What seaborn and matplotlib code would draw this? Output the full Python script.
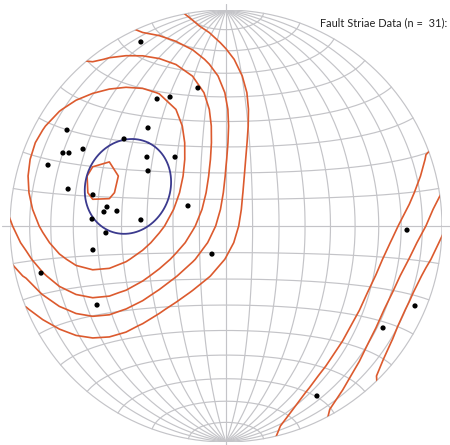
import numpy as np
import matplotlib
matplotlib.use("Agg")
import matplotlib.pyplot as plt
import matplotlib.patches as mpatches
import seaborn as sns

# =====================================================
# DATA (read off the equal-area net, unit radius, lower hemisphere)
# =====================================================

net_x = [-0.394, -0.319, -0.259, -0.130, -0.736, -0.361, -0.755, -0.727,
         -0.662, -0.824, -0.366, -0.236, -0.361, -0.731, -0.616, -0.551,
         -0.565, -0.505, -0.620, -0.394, -0.176, -0.556, -0.616, -0.065,
         -0.856, -0.597, 0.838, 0.875, 0.727, 0.421, -0.472]
net_y = [0.852, 0.588, 0.597, 0.639, 0.444, 0.454, 0.338, 0.338,
         0.356, 0.282, 0.319, 0.319, 0.255, 0.171, 0.144, 0.088,
         0.065, 0.069, 0.032, 0.028, 0.093, -0.032, -0.111, -0.130,
         -0.218, -0.366, -0.019, -0.370, -0.472, -0.787, 0.403]

# confidence cone around the mean striae direction
cone_trend = 292.0
cone_plunge = 49.0
cone_angle = 17.0

# exponential Kamb contouring
kamb_sigma = 3.0
contour_levels = [1.5, 2.6, 3.8, 6.0, 10.7]

title_text = "Fault Striae Data (n =  31):"


def project(e, n, d):
    # Lambert equal-area, scaled so the primitive has radius 1
    k = 1.0 / np.sqrt(1.0 + d)
    return e * k, n * k


def unproject(x, y):
    r2 = x**2 + y**2
    s = np.where(r2 > 1.0, 1.0 / np.sqrt(np.maximum(r2, 1e-12)), 1.0)
    x, y = x * s, y * s
    d = 1.0 - np.minimum(r2, 1.0)
    k = np.sqrt(1.0 + d)
    return x * k, y * k, d


# =====================================================
# FIGURE
# =====================================================

sns.set_style("white")
fig = plt.figure(figsize=(4.5, 4.45), dpi=100)
ax = fig.add_axes([10 / 450, 3 / 445, 432 / 450, 432 / 445])
ax.set_xlim(-1, 1)
ax.set_ylim(-1, 1)
ax.set_aspect("equal")
ax.axis("off")

grid_col = "#c4c4c8"
lw_grid = 0.85

# small circles (latitudes about N-S axis)
t = np.linspace(0, np.pi, 181)
for lat in range(-80, 90, 10):
    la = np.radians(lat)
    if lat == 0:
        continue
    px, py = project(np.cos(la) * np.cos(t), np.sin(la) * np.ones_like(t), np.cos(la) * np.sin(t))
    ax.plot(px, py, color=grid_col, lw=lw_grid)

# great circles (meridians)
lats = np.radians(np.linspace(-90, 90, 181))
for psi in range(10, 180, 10):
    if psi == 90:
        continue
    ps = np.radians(psi)
    px, py = project(np.cos(lats) * np.cos(ps), np.sin(lats), np.cos(lats) * np.sin(ps))
    ax.plot(px, py, color=grid_col, lw=lw_grid)

# primitive and cross
a = np.linspace(0, 2 * np.pi, 361)
ax.plot(np.cos(a), np.sin(a), color=grid_col, lw=lw_grid)
ax.plot([-1.035, 1.035], [0, 0], color=grid_col, lw=lw_grid, clip_on=False)
ax.plot([0, 0], [-1.03, 1.03], color=grid_col, lw=lw_grid, clip_on=False)

# density grid (coarse, like the original)
gx, gy = np.meshgrid(np.linspace(-1.08, 1.08, 29), np.linspace(-1.08, 1.08, 29))
ge, gn, gd = unproject(gx.ravel(), gy.ravel())
de, dn, dd = unproject(np.array(net_x), np.array(net_y))
cosd = np.abs(np.outer(ge, de) + np.outer(gn, dn) + np.outer(gd, dd))
n = len(net_x)
f = 2 * (1.0 + n / kamb_sigma**2)
units = np.sqrt(n * (f / 2.0 - 1) / f**2)
dens = (np.exp(f * (cosd - 1)).sum(axis=1) - 0.5) / units
dens = np.clip(dens, 0, None).reshape(gx.shape)

clip = mpatches.Circle((0, 0), 1.0, transform=ax.transData, fill=False, lw=0)
ax.add_patch(clip)
cs = ax.contour(gx, gy, dens, levels=contour_levels, colors="#dc5a2e", linewidths=1.2)
cs.set_clip_path(clip)

# cone
tr, pl, al = np.radians([cone_trend, cone_plunge, cone_angle])
axis_v = np.array([np.cos(pl) * np.sin(tr), np.cos(pl) * np.cos(tr), np.sin(pl)])
b = np.cross(axis_v, [0, 0, 1.0])
b /= np.linalg.norm(b)
c = np.cross(axis_v, b)
tt = np.linspace(0, 2 * np.pi, 200)
pts = np.cos(al) * axis_v[:, None] + np.sin(al) * (np.outer(b, np.cos(tt)) + np.outer(c, np.sin(tt)))
cx, cy = project(pts[0], pts[1], pts[2])
ax.plot(cx, cy, color="#3b3a8e", lw=1.3)

# striae
sns.scatterplot(x=net_x, y=net_y, color="black", s=14, edgecolor="none", ax=ax, zorder=5)

fig.text(447 / 450, 1 - 23 / 445, title_text, ha="right", va="center",
         fontsize=7.9, family="Lato", color="#222222")

fig.savefig("out.png", dpi=100)
